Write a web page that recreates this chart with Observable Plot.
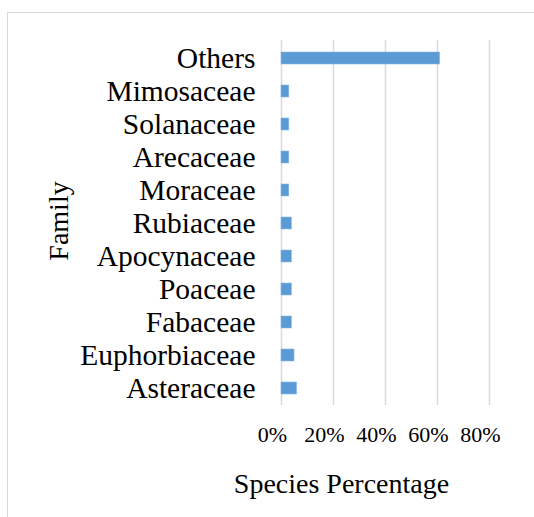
<!DOCTYPE html>
<html>
<head>
<meta charset="utf-8">
<script src="https://cdn.jsdelivr.net/npm/d3@7"></script>
<script src="https://cdn.jsdelivr.net/npm/@observablehq/plot@0.6"></script>
<style>
  html, body { margin: 0; padding: 0; background: #fff; }
  #wrap { position: relative; width: 534px; height: 517px; overflow: hidden; }
  #border { position: absolute; left: 7px; top: 12px; width: 600px; height: 600px; border: 1px solid #d9d9d9; box-sizing: border-box; }
  #chart { position: absolute; left: 0; top: 0; }
</style>
</head>
<body>
<div id="wrap"><div id="border"></div><div id="chart"></div></div>
<script>
const families = ["Others", "Mimosaceae", "Solanaceae", "Arecaceae", "Moraceae", "Rubiaceae", "Apocynaceae", "Poaceae", "Fabaceae", "Euphorbiaceae", "Asteraceae"];
const percentages = [61, 3, 3, 3, 3, 4, 4, 4, 4, 5, 6];
const xTicks = [0, 20, 40, 60, 80];
const xTitle = "Species Percentage";
const yTitle = "Family";

const data = families.map((f, i) => ({family: f, value: percentages[i]}));
const font = "'Liberation Serif', 'Times New Roman', serif";

const chart = Plot.plot({
  width: 534,
  height: 517,
  marginLeft: 281,
  marginRight: 45,
  marginTop: 40,
  marginBottom: 112,
  style: {fontFamily: font, background: "transparent", color: "#000"},
  x: {domain: [0, 80], axis: null},
  y: {domain: families, paddingInner: 0.65, paddingOuter: 0.325, axis: null},
  marks: [
    Plot.gridX(xTicks, {stroke: "#d9d9d9", strokeOpacity: 1, strokeWidth: 1.5}),
    Plot.barX(data, {x: "value", y: "family", fill: "#5B9BD5", stroke: "#8db8e3", strokeWidth: 0.6}),
    Plot.axisX({ticks: xTicks, tickFormat: d => d + "%", tickSize: 0, tickPadding: 21, fontSize: 22, dx: -9, label: null, fill: "#000"}),
    Plot.axisY({tickSize: 0, tickPadding: 26, fontSize: 29.5, label: null, fill: "#000"}),
    Plot.text([yTitle], {frameAnchor: "left", textAnchor: "middle", dx: -214, dy: -2, rotate: -90, fontSize: 28, lineAnchor: "bottom", fill: "#000"}),
    Plot.text([xTitle], {frameAnchor: "bottom", dx: -44, dy: 87, fontSize: 28, lineAnchor: "bottom", fill: "#000"})
  ]
});
document.getElementById("chart").appendChild(chart);
</script>
</body>
</html>
